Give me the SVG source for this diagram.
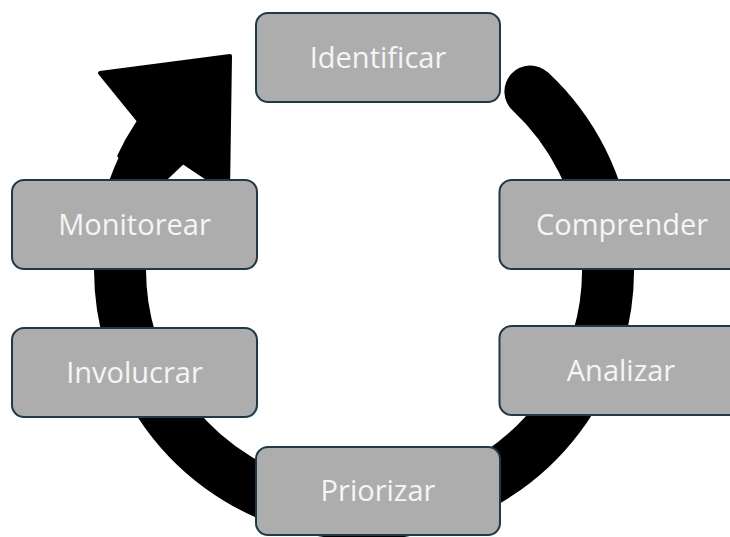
<svg xmlns="http://www.w3.org/2000/svg" width="730" height="537" viewBox="0 0 730 537">
<style>
.box{fill:#adadad;stroke:#1c3a4a;stroke-width:2}
.lbl{font-family:"Open Sans","Noto Sans",sans-serif;font-size:29px;fill:#f5f5f5;text-anchor:middle}
.ring{fill:none;stroke:#000;stroke-width:52;stroke-linecap:round}
.head{fill:#000;stroke:#000;stroke-width:4;stroke-linejoin:round}
</style>
<rect width="730" height="537" fill="#fff"/>
<g id="connectors">
<path class="ring" d="M530.4,91.5 A244,244 0 1 1 142.9,166.9"/>
<polygon class="head" points="119.3,155.9 127.4,140 139,121 100,73 230,56 228,192 183,162 166,178"/>
</g>
<g id="identificar"><rect class="box" x="256" y="13" width="244" height="89" rx="12"/><text class="lbl" x="378" y="68">Identificar</text></g>
<g id="comprender"><rect class="box" x="499.5" y="180" width="245" height="89" rx="12"/><text class="lbl" x="622" y="234.5">Comprender</text></g>
<g id="analizar"><rect class="box" x="499.5" y="326" width="245" height="89" rx="12"/><text class="lbl" x="621" y="380.5">Analizar</text></g>
<g id="priorizar"><rect class="box" x="256" y="447" width="244" height="88" rx="12"/><text class="lbl" x="378" y="501">Priorizar</text></g>
<g id="involucrar"><rect class="box" x="12" y="328" width="245" height="89" rx="12"/><text class="lbl" x="134.5" y="383">Involucrar</text></g>
<g id="monitorear"><rect class="box" x="12" y="180" width="245" height="89" rx="12"/><text class="lbl" x="134.5" y="234.5">Monitorear</text></g>
</svg>
